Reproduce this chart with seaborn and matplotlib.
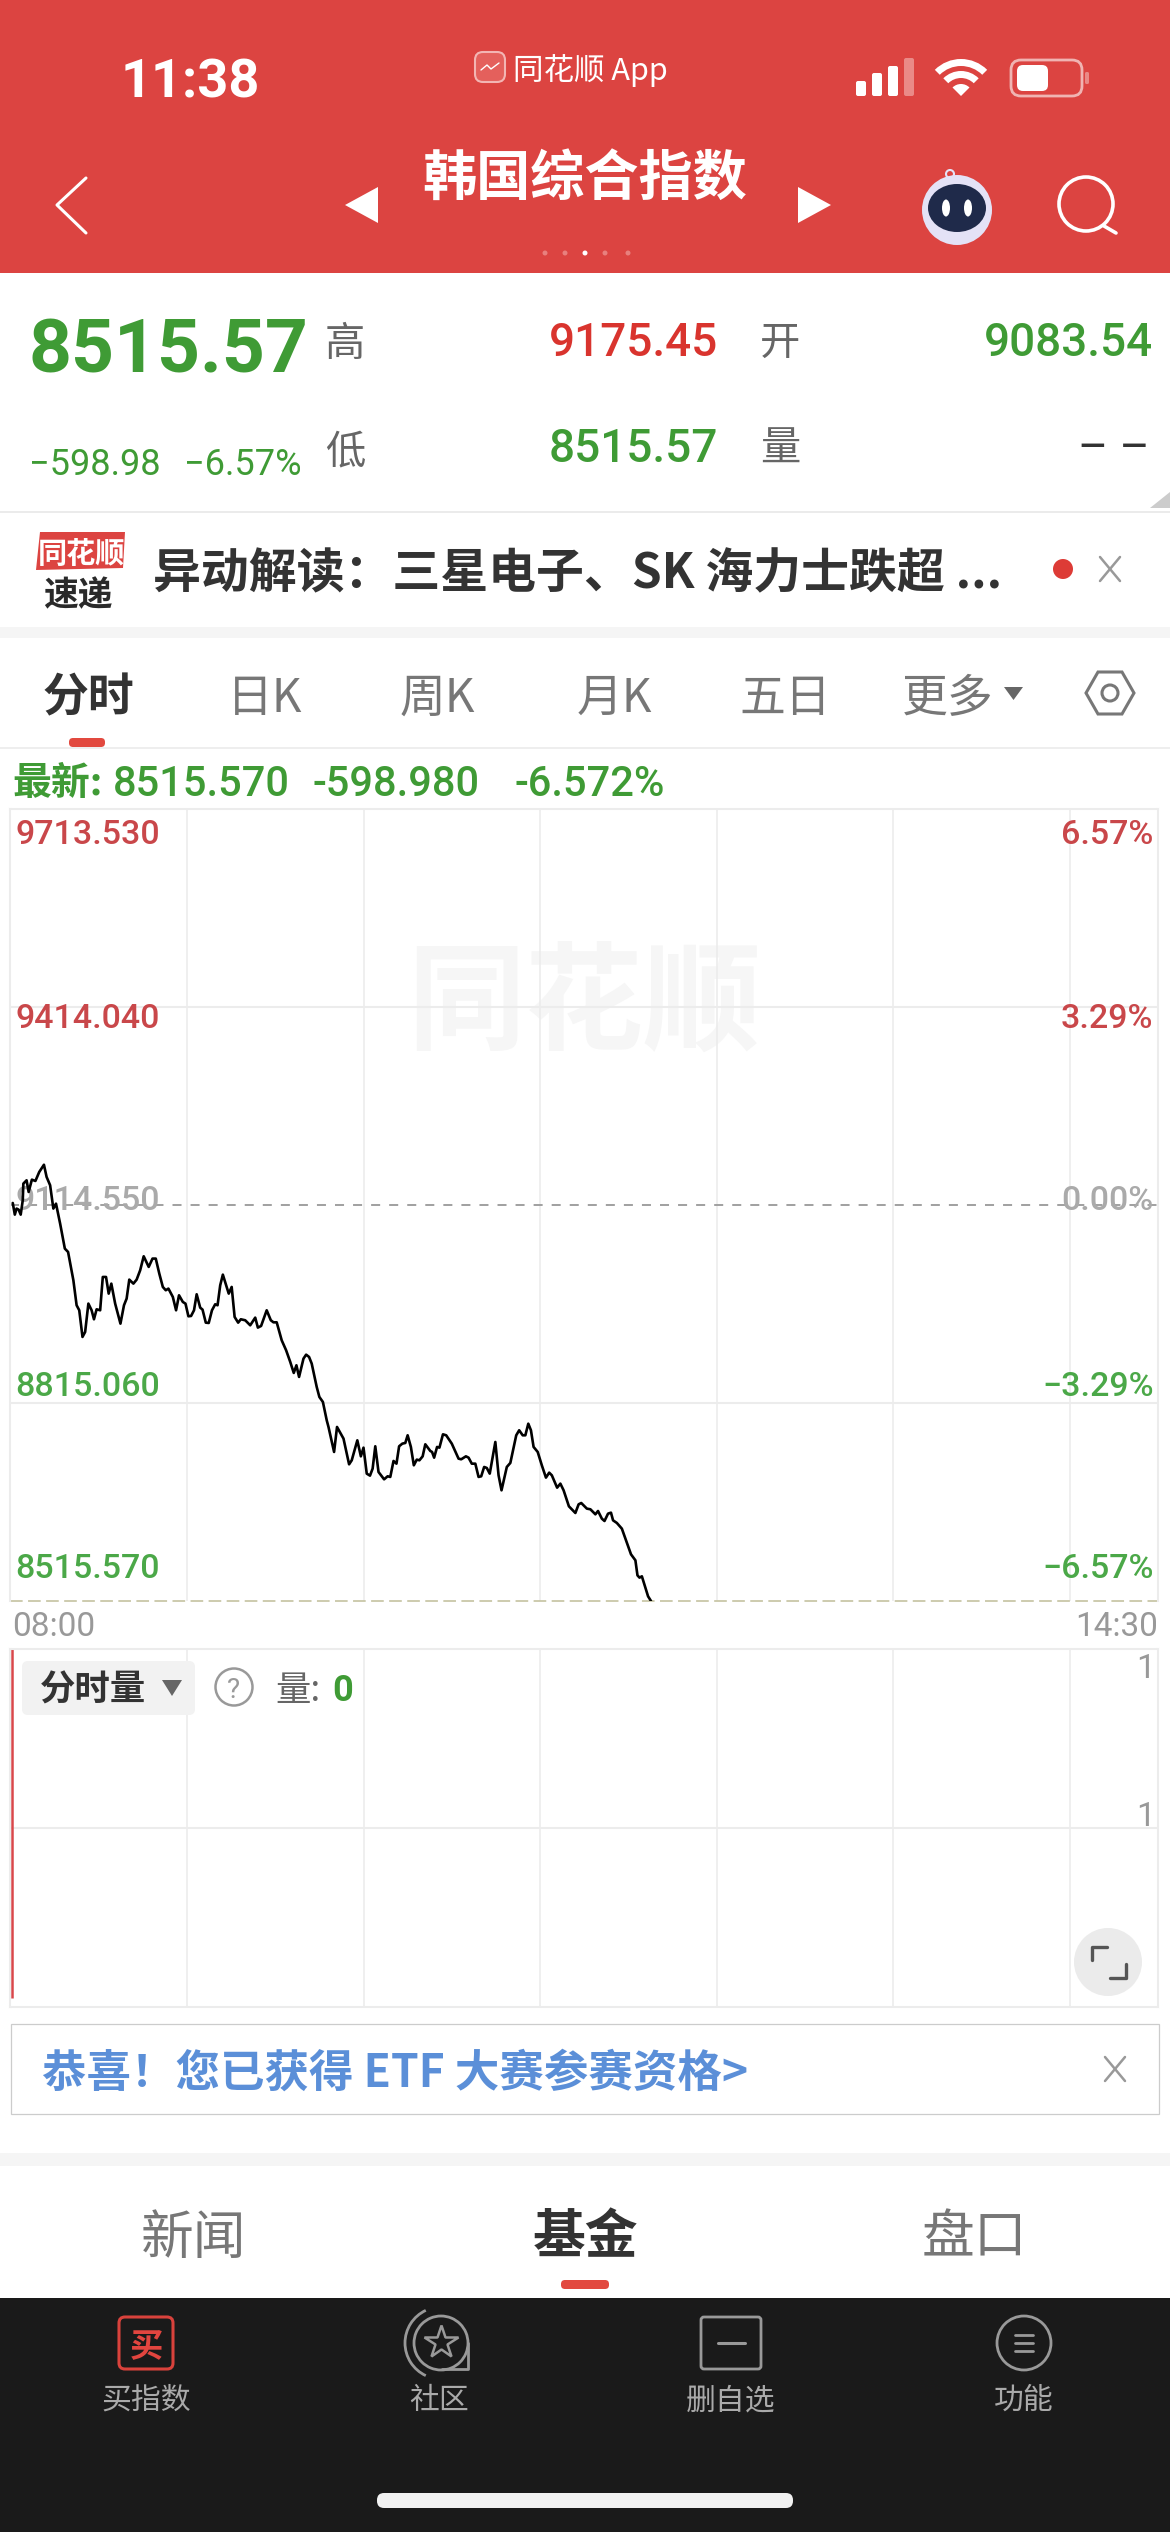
#%% Biblioteke
import matplotlib
matplotlib.use('Agg')
import matplotlib.pyplot as plt
import seaborn as sns
import pandas as pd
from matplotlib.patches import Rectangle, FancyBboxPatch, Circle, Wedge, Polygon, Ellipse, Arc

#%% Podaci
minutes = [0.8, 1.5, 2.1, 2.8, 3.5, 4.2, 4.4, 5.5, 6.2, 7.3, 8.5, 9.8, 11.4, 12.3, 13.5, 14.6, 15.5, 16.9, 18.5, 19.6,
           21.4, 22.5, 23.4, 24.5, 25.4, 26.5, 27.6, 28.4, 29.3, 30.5, 31.4, 32.5, 33.4, 34.3, 35.6, 37.4, 38.6, 39.5, 40.4, 41.8,
           42.9, 44.1, 45.3, 47.0, 48.3, 49.4, 50.6, 51.8, 52.8, 53.7, 55.2, 56.3, 57.3, 58.6, 59.5, 60.5, 61.4, 62.4, 63.3, 64.5,
           65.3, 66.4, 67.4, 68.5, 69.6, 70.4, 71.3, 72.2, 73.3, 74.2, 75.2, 76.2, 77.4, 78.3, 79.8, 81.5, 83.2, 84.1, 85.2, 87.1,
           88.5, 89.4, 90.5, 92.2, 93.7, 95.1, 96.3, 97.2, 98.1, 99.6, 100.5, 101.5, 102.4, 104.1, 105.0, 106.2, 107.5, 108.1, 110.0, 111.0,
           113.2, 115.1, 116.0, 117.9, 119.1, 120.0, 121.1, 122.2, 123.1, 124.0, 125.1, 127.0, 128.2, 129.1, 130.2, 131.2, 132.1, 133.2, 134.2, 135.0,
           136.1, 137.1, 138.1, 139.0, 140.1, 141.0, 142.7, 143.3, 144.0, 145.0, 145.8, 147.0, 148.1, 150.0, 152.3, 153.2, 154.8, 155.7, 156.8, 158.0,
           159.1, 160.0, 161.0, 161.9, 162.9, 164.8, 165.9, 166.9, 168.7, 169.9, 171.9, 172.9, 174.1, 175.0, 176.0, 176.9, 177.8, 179.2, 180.6, 182.0,
           183.1, 184.0, 185.8, 186.9, 188.0, 189.8, 192.0, 193.1, 194.0, 195.9, 197.1, 198.8, 199.7, 201.0, 201.9, 203.1, 204.1, 204.8, 206.1, 207.8,
           209.0, 210.9, 212.4, 213.1, 213.8, 214.6, 216.7, 217.7]
prices = [9117.6, 9100.0, 9109.1, 9107.5, 9100.0, 9121.7, 9146.9, 9151.9, 9134.3, 9152.9, 9150.9, 9164.5, 9175.45, 9157.0, 9144.4, 9109.1, 9116.6, 9086.4, 9048.6, 9043.5,
          9000.7, 8962.9, 8955.3, 8915.0, 8922.5, 8965.4, 8955.3, 8941.7, 8956.8, 8955.3, 9005.7, 9005.7, 8980.5, 8995.6, 8965.4, 8935.1, 8962.9, 8973.0, 9001.7, 8995.6,
          9001.7, 9015.8, 9037.0, 9020.9, 9033.5, 9033.5, 9010.8, 8990.6, 8985.6, 8988.1, 8975.5, 8955.3, 8978.0, 8967.9, 8965.4, 8946.2, 8946.7, 8955.3, 8979.5, 8959.3,
          8956.3, 8936.6, 8936.1, 8955.3, 8964.4, 8962.9, 8993.1, 9009.2, 8993.1, 8980.5, 8990.6, 8945.2, 8936.6, 8941.7, 8940.2, 8932.6, 8944.2, 8929.1, 8931.6, 8955.3,
          8940.2, 8937.1, 8937.1, 8909.9, 8894.8, 8877.2, 8860.5, 8872.1, 8854.5, 8882.2, 8888.2, 8884.7, 8874.6, 8839.3, 8824.2, 8816.6, 8788.9, 8778.8, 8741.0, 8778.8,
          8761.2, 8722.3, 8728.4, 8758.6, 8734.4, 8747.5, 8708.2, 8705.2, 8715.8, 8749.6, 8710.7, 8699.6, 8704.2, 8703.2, 8727.4, 8723.3, 8749.6, 8753.6, 8754.6, 8766.2,
          8748.6, 8720.8, 8729.4, 8728.4, 8734.4, 8752.6, 8742.5, 8741.0, 8732.4, 8748.6, 8747.5, 8767.7, 8766.2, 8753.6, 8730.9, 8729.9, 8734.4, 8732.4, 8723.3, 8723.3,
          8703.2, 8704.2, 8718.3, 8716.8, 8708.2, 8756.1, 8705.7, 8683.0, 8718.3, 8724.4, 8766.2, 8773.8, 8766.2, 8766.2, 8783.8, 8773.8, 8748.6, 8741.0, 8720.8, 8702.2,
          8709.7, 8705.7, 8687.0, 8693.1, 8683.0, 8658.8, 8648.7, 8661.8, 8663.8, 8655.3, 8654.3, 8646.7, 8651.7, 8640.1, 8636.6, 8647.7, 8649.2, 8637.6, 8633.6, 8625.0,
          8609.9, 8586.2, 8577.1, 8554.4, 8550.9, 8552.9, 8522.7, 8515.57]

price_ticks = [9713.53, 9414.04, 9114.55, 8815.06, 8515.57]
price_labels = ['9713.530', '9414.040', '9114.550', '8815.060', '8515.570']
pct_labels = ['6.57%', '3.29%', '0.00%', '−3.29%', '−6.57%']
hour_ticks = [60, 120, 180, 240, 300, 360]
time_labels = ['08:00', '14:30']
volume_minutes = [0.4]
volume_values = [2.0]

RED = '#dc4441'
GREEN = '#3f9b35'
TICK_RED = '#c9474a'
TICK_GREEN = '#4ba848'
GRID = '#ececec'
GREY = '#777777'
DARK = '#333333'
CJK = ['Noto Sans CJK SC', 'DejaVu Sans']
NUM = ['Roboto', 'Noto Sans CJK SC', 'DejaVu Sans']

sns.set_theme(style='white')
plt.rcParams['font.family'] = CJK

W, H = 1170, 2532
fig = plt.figure(figsize=(W / 100, H / 100), dpi=100, facecolor='white')


def px_axes(zorder):
    a = fig.add_axes([0, 0, 1, 1], zorder=zorder)
    a.set_xlim(0, W)
    a.set_ylim(H, 0)
    a.axis('off')
    a.patch.set_alpha(0)
    return a


def chart_axes(left, top, right, bottom):
    return fig.add_axes([left / W, 1 - bottom / H, (right - left) / W, (bottom - top) / H], zorder=2)


low = px_axes(0)
ui = px_axes(5)


def label(x, y, s, size, color, ha='center', family=None, weight='normal', alpha=1):
    ui.text(x, y, s, fontsize=size, color=color, ha=ha, va='center_baseline', family=family or CJK,
            fontweight=weight, alpha=alpha)


def rbox(x0, y0, x1, y1, r, **kw):
    ui.add_patch(FancyBboxPatch((x0 + r, y0 + r), x1 - x0 - 2 * r, y1 - y0 - 2 * r,
                                boxstyle=f'round,pad={r},rounding_size={r}', **kw))


def seg(xs, ys, color, lw):
    ui.plot(xs, ys, color=color, lw=lw, solid_capstyle='round', solid_joinstyle='round')


#%% Pozadinski pojasevi
low.add_patch(Rectangle((0, 0), W, 273, color=RED, lw=0))
low.add_patch(Rectangle((0, 511), W, 2, color='#ebebeb', lw=0))
low.add_patch(Rectangle((0, 627), W, 11, color='#f5f5f5', lw=0))
low.add_patch(Rectangle((0, 747), W, 2, color='#eeeeee', lw=0))
low.add_patch(Rectangle((0, 2153), W, 13, color='#f5f5f5', lw=0))
low.add_patch(Rectangle((0, 2298), W, H - 2298, color='#1a1a1a', lw=0))
low.text(584, 1006, '同花顺', fontsize=85, color='#f6f6f6', ha='center', va='center', fontweight='bold')

#%% Statusna traka i naslov
label(190, 77, '11:38', 39, 'white', family=NUM, weight='bold')
rbox(475, 52, 505, 82, 8, fc='#e4605c', ec='#f3b5b3', lw=1.5)
seg([481, 487, 491, 499], [70, 65, 69, 63], 'white', 1)
label(513, 67, '同花顺 App', 22, 'white', ha='left')
for bx, top_y, col in [(856, 81, 'white'), (872, 73, 'white'), (888, 66, 'white'), (904, 58, '#ea8a87')]:
    rbox(bx, top_y, bx + 10, 96, 2, fc=col, ec='none')
ui.add_patch(Wedge((961, 96), 12, 225, 315, fc='white', ec='none'))
ui.add_patch(Wedge((961, 96), 25, 225, 315, width=7, fc='white', ec='none'))
ui.add_patch(Wedge((961, 96), 37, 225, 315, width=7, fc='white', ec='none'))
rbox(1011, 60, 1082, 96, 10, fc='none', ec='#f0b4b2', lw=2)
rbox(1017, 65, 1048, 91, 6, fc='white', ec='none')
rbox(1085, 72, 1089, 84, 1.5, fc='#ea8a87', ec='none')

seg([86, 57, 86], [178, 205, 233], 'white', 2.2)
ui.add_patch(Polygon([(378, 187), (345, 205), (378, 223)], color='white', lw=0))
ui.add_patch(Polygon([(798, 187), (831, 205), (798, 223)], color='white', lw=0))
label(585, 173, '韩国综合指数', 39, 'white', weight='bold')
for dx in [545, 565, 585, 605, 628]:
    ui.add_patch(Circle((dx, 253), 2.5, fc='white' if dx == 585 else '#e8807d', ec='none'))

# robot
ui.add_patch(Circle((957, 210), 35, fc='#e4e2f6', ec='none'))
ui.add_patch(Ellipse((957, 208), 58, 48, fc='#1f2a4a', ec='none'))
ui.add_patch(Ellipse((946, 208), 8, 17, fc='white', ec='none'))
ui.add_patch(Ellipse((968, 208), 8, 17, fc='white', ec='none'))
ui.add_patch(Circle((950, 174), 4, fc='none', ec='#e4e2f6', lw=1.5))
# lupa
ui.add_patch(Circle((1086, 204), 27, fc='none', ec='white', lw=2.6))
seg([1104, 1116], [226, 233], 'white', 2.6)

#%% Blok kotacija
label(29, 345, '8515.57', 54, GREEN, ha='left', family=NUM, weight='bold')
label(345, 340, '高', 29, '#666666')
label(718, 339, '9175.45', 33, '#d9342e', ha='right', family=NUM, weight='medium')
label(780, 339, '开', 29, '#666666')
label(1153, 339, '9083.54', 33, GREEN, ha='right', family=NUM, weight='medium')
label(29, 461, '−598.98', 26, GREEN, ha='left', family=NUM)
label(184, 461, '−6.57%', 26, GREEN, ha='left', family=NUM)
label(345, 447, '低', 29, '#666666')
label(718, 445, '8515.57', 33, GREEN, ha='right', family=NUM, weight='medium')
label(780, 445, '量', 29, '#666666')
label(1150, 444, '– –', 33, '#333333', ha='right', family=NUM)
ui.add_patch(Polygon([(1170, 492), (1170, 508), (1150, 508)], color='#cccccc', lw=0))

#%% Vesti
ui.add_patch(Polygon([(40, 532), (125, 532), (123, 568), (36, 570)], color=RED, lw=0))
label(81, 551, '同花顺', 21, 'white', weight='bold')
label(78, 592, '速递', 25, '#2a2a2a', weight='bold')
label(153, 569, '异动解读：三星电子、SK 海力士跌超 ...', 34.5, DARK, ha='left', weight='bold')
ui.add_patch(Circle((1063, 569), 10, fc='#dd3b36', ec='none'))
seg([1100, 1120], [557, 581], '#999999', 1.8)
seg([1120, 1100], [557, 581], '#999999', 1.8)

#%% Tabovi perioda
label(88, 693, '分时', 33, DARK, weight='bold')
for tx, s in [(265, '日K'), (437, '周K'), (614, '月K'), (785, '五日'), (948, '更多')]:
    label(tx, 693, s, 33, GREY)
ui.add_patch(Polygon([(1004, 687), (1023, 687), (1013.5, 700)], color='#666666', lw=0))
rbox(69, 738, 105, 747, 4, fc='#e2493f', ec='none')
ui.add_patch(Polygon([(1086, 693), (1098, 672), (1122, 672), (1134, 693), (1122, 714), (1098, 714)],
                     fc='none', ec='#777777', lw=2.2))
ui.add_patch(Circle((1110, 693), 8, fc='none', ec='#777777', lw=2.2))

label(12, 780, '最新:', 28, GREEN, ha='left', weight='bold')
label(113, 780, '8515.570', 30, GREEN, ha='left', family=NUM, weight='medium')
label(312, 780, '-598.980', 30, GREEN, ha='left', family=NUM, weight='medium')
label(515, 780, '-6.572%', 30, GREEN, ha='left', family=NUM, weight='medium')

#%% Grafik cene
df = pd.DataFrame({'minute': minutes, 'price': prices})
ax = chart_axes(10.4, 809, 1158, 1601)
ax.patch.set_alpha(0)
for y in [price_ticks[1], price_ticks[3]]:
    ax.axhline(y, color=GRID, lw=1.5, zorder=1)
for x in hour_ticks:
    ax.axvline(x, color=GRID, lw=1.2, zorder=1)
ax.axhline(price_ticks[2], color='#999999', lw=1.3, ls=(0, (5, 5)), zorder=1.5)
ax.axhline(price_ticks[4], color='#c9c7a8', lw=1.3, ls=(0, (7, 3)), zorder=1.5, clip_on=False)
sns.lineplot(data=df, x='minute', y='price', estimator=None, sort=False, color='black', lw=1.9,
             ax=ax, zorder=4, solid_joinstyle='round')
ax.set_xlim(0, 390)
ax.set_ylim(price_ticks[4], price_ticks[0])
ax.set_xticks([])
ax.set_yticks([])
ax.set_xlabel('')
ax.set_ylabel('')
for s in ['top', 'left', 'right']:
    ax.spines[s].set_color(GRID)
    ax.spines[s].set_linewidth(1.5)
ax.spines['bottom'].set_visible(False)

# pomeraj oznake u odnosu na liniju, u pikselima
tick_offsets = [-23, -9, 7, 20, 35]
tick_colors = [TICK_RED, TICK_RED, '#aaaaaa', TICK_GREEN, TICK_GREEN]
for v, left_s, right_s, off, col in zip(price_ticks, price_labels, pct_labels, tick_offsets, tick_colors):
    ax.annotate(left_s, (0, v), xytext=(3.8, off * 0.72), textcoords='offset points', fontsize=24.5, color=col,
                ha='left', va='center_baseline', family=NUM, fontweight='medium', zorder=3, annotation_clip=False)
    ax.annotate(right_s, (390, v), xytext=(-3.2, off * 0.72), textcoords='offset points', fontsize=24.5, color=col,
                ha='right', va='center_baseline', family=NUM, fontweight='medium', zorder=3, annotation_clip=False)

label(12, 1623, time_labels[0], 24, '#999999', ha='left', family=NUM)
label(1158, 1623, time_labels[1], 24, '#999999', ha='right', family=NUM)

#%% Grafik obima
ax2 = chart_axes(10.4, 1649, 1158, 2007)
ax2.patch.set_alpha(0)
ax2.axhline(1, color=GRID, lw=1.5)
for x in hour_ticks:
    ax2.axvline(x, color=GRID, lw=1.2)
ax2.vlines(volume_minutes, 0.05, volume_values, color='#d9474a', lw=1.8)
ax2.set_xlim(0, 390)
ax2.set_ylim(0, 2)
ax2.set_xticks([])
ax2.set_yticks([])
for s in ax2.spines.values():
    s.set_color(GRID)
    s.set_linewidth(1.5)

rbox(22, 1661, 195, 1715, 6, fc='#f2f2f2', ec='none')
label(93, 1687, '分时量', 25.5, DARK, weight='bold')
ui.add_patch(Polygon([(162, 1680), (182, 1680), (172, 1696)], color='#666666', lw=0))
ui.add_patch(Circle((234, 1687), 18.5, fc='white', ec='#999999', lw=1.8))
label(234, 1687, '?', 20, '#999999', family=NUM)
label(275, 1687, '量:', 25.5, '#666666', ha='left')
label(343, 1687, '0', 26, GREEN, family=NUM, weight='bold')
label(1155, 1666, '1', 24, '#999999', ha='right', family=NUM)
label(1155, 1814, '1', 24, '#999999', ha='right', family=NUM)
ui.add_patch(Circle((1108, 1962), 34, fc='#ebebeb', ec='none'))
seg([1092, 1092, 1107], [1960, 1947, 1947], '#555555', 2.4)
seg([1110, 1126, 1126], [1978, 1978, 1964], '#555555', 2.4)

#%% Baner
ui.add_patch(Rectangle((11, 2024), 1148, 90, fc='white', ec='#cccccc', lw=0.9))
label(42, 2069, '恭喜！您已获得 ETF 大赛参赛资格>', 32, '#5b8fd8', ha='left', weight='bold')
seg([1105, 1125], [2057, 2081], '#999999', 1.8)
seg([1125, 1105], [2057, 2081], '#999999', 1.8)

#%% Donji tabovi
label(194, 2232, '新闻', 38, GREY)
label(585, 2232, '基金', 38, DARK, weight='bold')
label(974, 2232, '盘口', 38, GREY)
rbox(561, 2280, 609, 2289, 4, fc='#e2493f', ec='none')

#%% Donja navigacija
rbox(119, 2317, 173, 2369, 6, fc='none', ec='#d9423c', lw=2.2)
label(146, 2343, '买', 24, '#e2453f', weight='bold')
ui.add_patch(Arc((441, 2343), 54, 54, theta1=90, theta2=270 + 180, color='#999999', lw=2))
ui.add_patch(Arc((441, 2343), 72, 72, theta1=115, theta2=245, color='#999999', lw=2))
seg([468, 468, 442], [2343, 2369, 2369], '#999999', 2)
ui.plot([441], [2342], marker='*', ms=25, mfc='none', mec='#999999', mew=1.8)
rbox(701, 2317, 761, 2369, 3, fc='none', ec='#999999', lw=2)
seg([718, 745], [2343, 2343], '#999999', 2.2)
ui.add_patch(Circle((1024, 2343), 27, fc='none', ec='#999999', lw=2))
for ly in [2335, 2343, 2351]:
    seg([1015, 1033], [ly, ly], '#999999', 2)
for nx, s in [(146, '买指数'), (439, '社区'), (731, '删自选'), (1024, '功能')]:
    label(nx, 2397, s, 21.5, '#aaaaaa')
rbox(377, 2493, 793, 2508, 7, fc='#f2f2f2', ec='none')

fig.savefig('out.png', dpi=100, facecolor='white')
